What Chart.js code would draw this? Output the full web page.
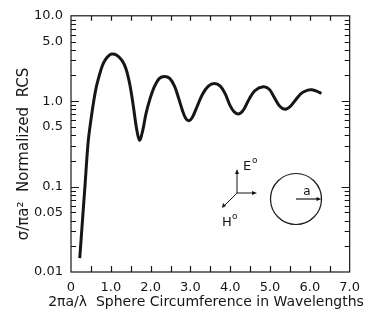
<!DOCTYPE html>
<html>
<head>
<meta charset="utf-8">
<script src="https://cdn.jsdelivr.net/npm/chart.js@4"></script>
<style>
  html, body { margin: 0; padding: 0; background: #fff; }
  #wrap { width: 368px; height: 320px; }
</style>
</head>
<body>
<div id="wrap"><canvas id="rcs"></canvas></div>
<script>
// ── Sphere backscatter, normalized to the optical value ───────────────────────
const ka  = [0.22, 0.30, 0.35, 0.43, 0.50, 0.57, 0.64, 0.71, 0.78, 0.85,
             0.93, 1.02, 1.15, 1.28, 1.38, 1.48, 1.57, 1.64, 1.72, 1.80,
             1.88, 1.98, 2.10, 2.22, 2.35, 2.48, 2.60, 2.70, 2.80, 2.88,
             2.96, 3.05, 3.16, 3.30, 3.45, 3.60, 3.75, 3.88, 4.00, 4.10,
             4.22, 4.34, 4.47, 4.62, 4.83, 4.98, 5.10, 5.22, 5.32, 5.41,
             5.52, 5.66, 5.80, 5.95, 6.05, 6.17, 6.29];
const rcs = [0.0145, 0.048, 0.10, 0.33, 0.60, 1.00, 1.50, 2.00, 2.55, 3.00,
             3.35, 3.56, 3.45, 3.00, 2.40, 1.55, 0.85, 0.50, 0.35, 0.45,
             0.70, 1.05, 1.50, 1.85, 1.95, 1.85, 1.50, 1.10, 0.78, 0.63,
             0.59, 0.65, 0.85, 1.20, 1.50, 1.61, 1.50, 1.20, 0.88, 0.75,
             0.71, 0.80, 1.05, 1.33, 1.48, 1.38, 1.12, 0.90, 0.82, 0.81,
             0.88, 1.06, 1.25, 1.35, 1.36, 1.31, 1.23];

const xTickValues = [0, 1, 2, 3, 4, 5, 6, 7];
const xTickLabels = ['0', '1.0', '2.0', '3.0', '4.0', '5.0', '6.0', '7.0'];
const yTickValues = [10, 5, 1, 0.5, 0.1, 0.05, 0.01];
const yTickLabels = ['10.0', '5.0', '1.0', '0.5', '0.1', '0.05', '0.01'];

const FONT = 'DejaVu Sans';
const INK  = '#161616';

// frame, inward tick marks, axis titles and the little sphere sketch
const figureDecor = {
    id: 'figureDecor',
    afterDatasetsDraw(chart) {
        const { ctx, chartArea: a, scales: { x, y } } = chart;
        ctx.save();
        ctx.strokeStyle = INK;
        ctx.lineWidth = 1.2;
        ctx.strokeRect(a.left, a.top, a.right - a.left, a.bottom - a.top);

        // x ticks every 0.5, bottom and top edge
        ctx.beginPath();
        for (let v = 0.5; v < 7; v += 0.5) {
            const px = Math.round(x.getPixelForValue(v)) + 0.5;
            ctx.moveTo(px, a.bottom); ctx.lineTo(px, a.bottom - 6);
            ctx.moveTo(px, a.top);    ctx.lineTo(px, a.top + 5);
        }
        // log ticks 1..9 per decade, left and right edge
        for (let d = -2; d <= 0; d++) {
            for (let m = 1; m <= 9; m++) {
                const v = m * Math.pow(10, d);
                if (v <= 0.01) continue;
                const py = Math.round(y.getPixelForValue(v)) + 0.5;
                const len = m === 1 ? 8 : 5;
                ctx.moveTo(a.left, py);  ctx.lineTo(a.left + len, py);
                ctx.moveTo(a.right, py); ctx.lineTo(a.right - len, py);
            }
        }
        ctx.stroke();

        ctx.fillStyle = INK;
        ctx.textAlign = 'center';
        ctx.textBaseline = 'middle';

        // x axis title
        ctx.font = `14px ${FONT}`;
        ctx.fillText('2πa/λ  Sphere Circumference in Wavelengths', 206, 302);

        // y axis title (rotated)
        ctx.save();
        ctx.translate(24, 154);
        ctx.rotate(-Math.PI / 2);
        ctx.font = `15px ${FONT}`;
        ctx.fillText('σ/πa²  Normalized  RCS', 0, 0);
        ctx.restore();

        // field directions
        const ox = 237, oy = 193;
        ctx.lineWidth = 1;
        ctx.beginPath();
        ctx.moveTo(ox, oy); ctx.lineTo(ox, 171);
        ctx.moveTo(ox, oy); ctx.lineTo(255, oy);
        ctx.moveTo(ox, oy); ctx.lineTo(224, 206);
        ctx.stroke();
        ctx.beginPath();
        ctx.moveTo(ox, 169); ctx.lineTo(ox - 2, 174); ctx.lineTo(ox + 2, 174); ctx.closePath();
        ctx.moveTo(257, oy); ctx.lineTo(252, oy - 2); ctx.lineTo(252, oy + 2); ctx.closePath();
        ctx.moveTo(222, 208); ctx.lineTo(223, 203); ctx.lineTo(226, 206); ctx.closePath();
        ctx.fill();

        ctx.textAlign = 'left';
        ctx.font = `13px ${FONT}`;
        ctx.fillText('E', 243, 167);
        ctx.fillText('H', 222, 223);
        ctx.font = `9px ${FONT}`;
        ctx.fillText('o', 252, 161);
        ctx.fillText('o', 232, 217);

        // sphere of radius a
        const cx = 296, cy = 199, r = 25.5;
        ctx.lineWidth = 1.2;
        ctx.beginPath();
        ctx.arc(cx, cy, r, 0, Math.PI * 2);
        ctx.stroke();
        ctx.beginPath();
        ctx.moveTo(cx, cy); ctx.lineTo(cx + r - 3, cy);
        ctx.stroke();
        ctx.beginPath();
        ctx.moveTo(cx + r, cy); ctx.lineTo(cx + r - 5, cy - 2); ctx.lineTo(cx + r - 5, cy + 2);
        ctx.closePath(); ctx.fill();
        ctx.textAlign = 'center';
        ctx.font = `12px ${FONT}`;
        ctx.fillText('a', 307, 192);

        ctx.restore();
    }
};

new Chart(document.getElementById('rcs'), {
    type: 'line',
    data: {
        datasets: [{
            data: ka.map((k, i) => ({ x: k, y: rcs[i] })),
            borderColor: INK,
            borderWidth: 3,
            pointRadius: 0,
            tension: 0.35,
            fill: false,
        }],
    },
    options: {
        responsive: true,
        maintainAspectRatio: false,
        animation: false,
        events: [],
        layout: { padding: { top: 11, right: 17, left: 0, bottom: 0 } },
        plugins: { legend: { display: false }, tooltip: { enabled: false } },
        scales: {
            x: {
                type: 'linear',
                min: 0, max: 7,
                afterBuildTicks: s => { s.ticks = xTickValues.map(v => ({ value: v })); },
                afterFit: s => { s.height = 48; },
                grid: { display: false, drawTicks: false },
                border: { display: false },
                ticks: {
                    padding: 8,
                    color: INK,
                    maxRotation: 0,
                    autoSkip: false,
                    font: { family: FONT, size: 13 },
                    callback: v => xTickLabels[xTickValues.indexOf(v)],
                },
            },
            y: {
                type: 'logarithmic',
                min: 0.01, max: 10,
                afterBuildTicks: s => { s.ticks = yTickValues.map(v => ({ value: v })); },
                afterFit: s => { s.width = 71; },
                grid: { display: false, drawTicks: false },
                border: { display: false },
                ticks: {
                    padding: 8,
                    color: INK,
                    autoSkip: false,
                    font: { family: FONT, size: 13 },
                    callback: v => yTickLabels[yTickValues.indexOf(v)],
                },
            },
        },
    },
    plugins: [figureDecor],
});
</script>
</body>
</html>
